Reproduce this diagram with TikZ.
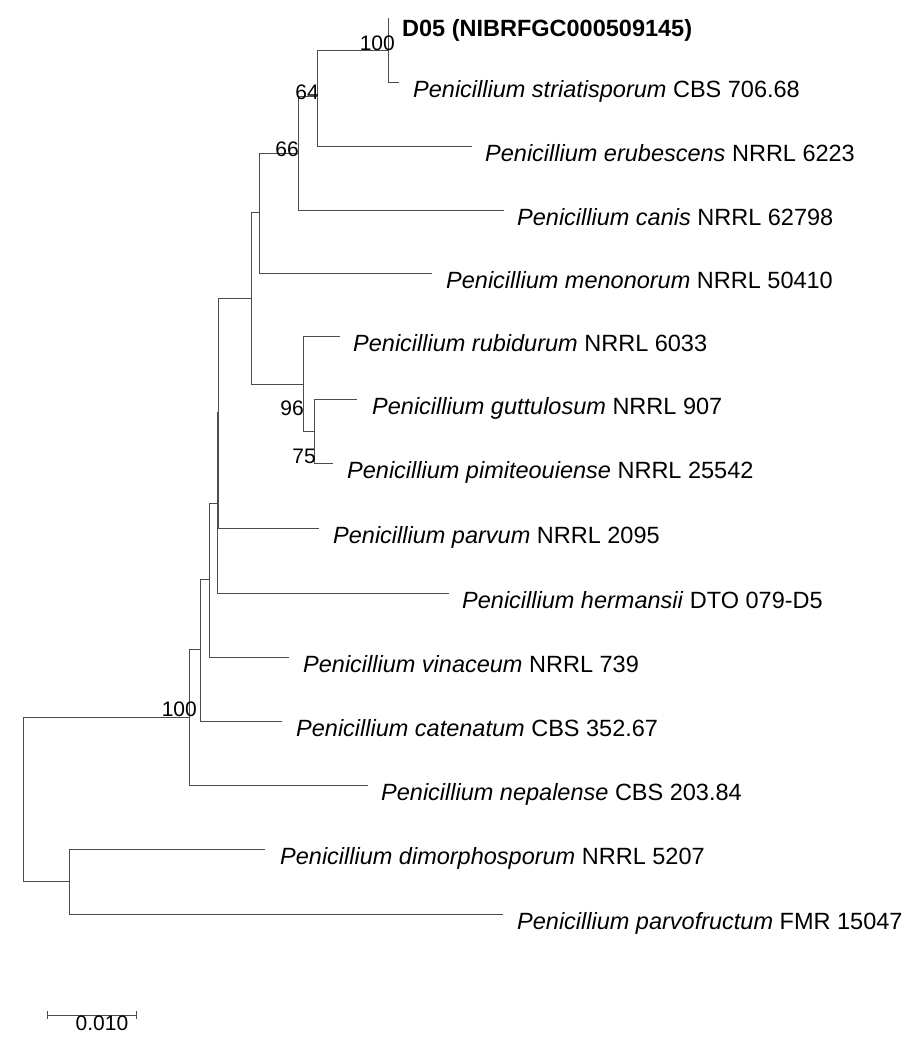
\documentclass[tikz,border=0pt]{standalone}
\usepackage{fontspec}
\setmainfont{Liberation Sans}
\begin{document}
\begin{tikzpicture}[x=1pt,y=-1pt,
  br/.style={draw=black!70,line width=0.8pt},
  leaf/.style={anchor=base west,font=\fontsize{23.5}{26}\selectfont,inner sep=0pt},
  boot/.style={anchor=base east,font=\fontsize{21}{23}\selectfont,inner sep=0pt}]
\useasboundingbox (0,0) rectangle (922,1045);
% internal nodes
\coordinate (A) at (388,50);
\coordinate (B) at (317,96);
\coordinate (C) at (298,153);
\coordinate (D) at (259,212);
\coordinate (E) at (251,298);
\coordinate (F) at (303,384);
\coordinate (G) at (314,431);
\coordinate (H) at (218,412);
\coordinate (I) at (217,503);
\coordinate (J) at (209,579);
\coordinate (K) at (200,649);
\coordinate (L) at (189,717);
\coordinate (R) at (23,800);
\coordinate (M) at (69,881);
% leaf ends
\coordinate (l1) at (388,18);
\coordinate (l2) at (399,82);
\coordinate (l3) at (472,146);
\coordinate (l4) at (504,210);
\coordinate (l5) at (432,273);
\coordinate (l6) at (340,336);
\coordinate (l7) at (357,399);
\coordinate (l8) at (333,463);
\coordinate (l9) at (319,528);
\coordinate (l10) at (449,593);
\coordinate (l11) at (289,657);
\coordinate (l12) at (282,721);
\coordinate (l13) at (368,785);
\coordinate (l14) at (265,849);
\coordinate (l15) at (503,914);
% branches
\draw[br] (l1) -- (A |- l1) -- (A |- l2) -- (l2);
\draw[br] (B |- A) -- (A);
\draw[br] (B |- A) -- (B |- l3) -- (l3);
\draw[br] (C |- B) -- (B);
\draw[br] (C |- B) -- (C |- l4) -- (l4);
\draw[br] (D |- C) -- (C);
\draw[br] (D |- C) -- (D |- l5) -- (l5);
\draw[br] (E |- D) -- (D);
\draw[br] (E |- D) -- (E |- F) -- (F);
\draw[br] (F |- l6) -- (l6);
\draw[br] (F |- l6) -- (F |- G) -- (G);
\draw[br] (G |- l7) -- (l7);
\draw[br] (G |- l7) -- (G |- l8) -- (l8);
\draw[br] (H |- E) -- (E);
\draw[br] (H |- E) -- (H |- l9) -- (l9);
\draw[br] (I |- H) -- (H);
\draw[br] (I |- H) -- (I |- l10) -- (l10);
\draw[br] (J |- I) -- (I);
\draw[br] (J |- I) -- (J |- l11) -- (l11);
\draw[br] (K |- J) -- (J);
\draw[br] (K |- J) -- (K |- l12) -- (l12);
\draw[br] (L |- K) -- (K);
\draw[br] (L |- K) -- (L |- l13) -- (l13);
\draw[br] (R |- L) -- (L);
\draw[br] (R |- L) -- (R |- M) -- (M);
\draw[br] (M |- l14) -- (l14);
\draw[br] (M |- l14) -- (M |- l15) -- (l15);
% leaf labels
\node[leaf] (t1) at (402,36) {\textbf{D05 (NIBRFGC000509145)}};
\node[leaf] (t2) at (413,97) {\textit{Penicillium striatisporum} CBS 706.68};
\node[leaf] (t3) at (485,161) {\textit{Penicillium erubescens} NRRL 6223};
\node[leaf] (t4) at (517,225) {\textit{Penicillium canis} NRRL 62798};
\node[leaf] (t5) at (446,288) {\textit{Penicillium menonorum} NRRL 50410};
\node[leaf] (t6) at (353,351) {\textit{Penicillium rubidurum} NRRL 6033};
\node[leaf] (t7) at (372,414) {\textit{Penicillium guttulosum} NRRL 907};
\node[leaf] (t8) at (347,478) {\textit{Penicillium pimiteouiense} NRRL 25542};
\node[leaf] (t9) at (333,543) {\textit{Penicillium parvum} NRRL 2095};
\node[leaf] (t10) at (462,608) {\textit{Penicillium hermansii} DTO 079-D5};
\node[leaf] (t11) at (303,672) {\textit{Penicillium vinaceum} NRRL 739};
\node[leaf] (t12) at (296,736) {\textit{Penicillium catenatum} CBS 352.67};
\node[leaf] (t13) at (381,800) {\textit{Penicillium nepalense} CBS 203.84};
\node[leaf] (t14) at (280,864) {\textit{Penicillium dimorphosporum} NRRL 5207};
\node[leaf] (t15) at (517,929) {\textit{Penicillium parvofructum} FMR 15047};
% bootstrap
\node[boot] (b1) at (395,50) {100};
\node[boot] (b2) at (319,99) {64};
\node[boot] (b3) at (299,156) {66};
\node[boot] (b4) at (304,415) {96};
\node[boot] (b5) at (316,463) {75};
\node[boot] (b6) at (197,716) {100};
% scale bar
\coordinate (s1) at (47,1015);
\coordinate (s2) at (136,1015);
\draw[br] (s1) -- (s2);
\draw[br] ([yshift=-4]s1) -- ([yshift=4]s1);
\draw[br] ([yshift=-4]s2) -- ([yshift=4]s2);
\node[anchor=base,font=\fontsize{21}{23}\selectfont,inner sep=0pt] (sl) at (102,1030) {0.010};
\end{tikzpicture}
\end{document}
